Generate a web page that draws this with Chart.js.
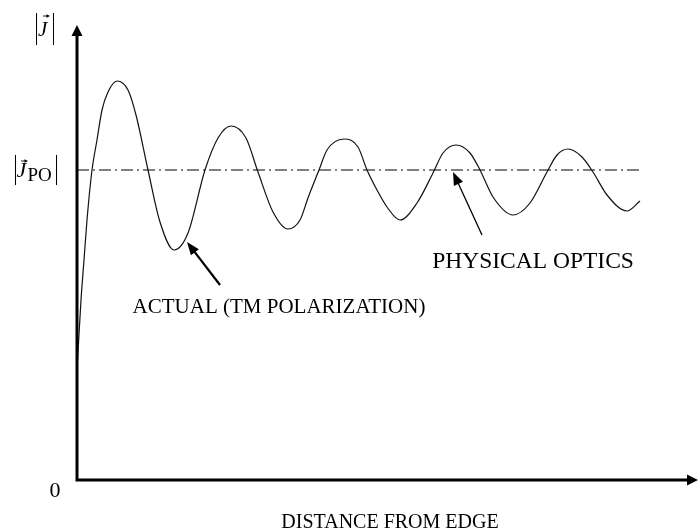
<!DOCTYPE html>
<html>
<head>
<meta charset="utf-8">
<script src="https://cdn.jsdelivr.net/npm/chart.js@4"></script>
<style>
  html, body { margin: 0; padding: 0; background: #fff; }
  #c { display: block; }
</style>
</head>
<body>
<canvas id="c" width="698" height="530"></canvas>
<script>
// ---- data (distance from edge, |J| in arbitrary units) ----
const distance = [0, 4, 7, 10, 15, 20, 25, 31, 40, 51, 59, 71, 83, 97, 111, 128, 141, 154, 169, 181, 196, 211, 223, 231, 242, 250, 267, 281, 290, 300, 310, 323, 340, 356, 366, 379, 393, 403, 416, 436, 453, 470, 480, 491, 505, 516, 530, 550, 563];
const actualJ  = [110, 180, 220, 260, 310, 340, 370, 388, 399, 390, 365, 310, 258, 230, 247, 310, 342, 354, 342, 308, 268, 251, 260, 282, 310, 330, 341, 333, 310, 290, 273, 260, 277, 307, 327, 335, 327, 310, 283, 265, 277, 308, 325, 331, 323, 308, 285, 269, 279];
const poX = [0, 563];
const poJ = [310, 310];
const xMax = 621;
const yMax = 455;

const FONT = '"Liberation Serif", "Times New Roman", serif';

const actualData = distance.map((x, i) => ({ x: x, y: actualJ[i] }));
const poData = poX.map((x, i) => ({ x: x, y: poJ[i] }));

// annotation anchors in data coordinates
const notes = {
  actual: { tail: [143, 195], tip: [110, 238], text: 'ACTUAL (TM POLARIZATION)', at: [202, 167], size: 21 },
  po:     { tail: [405, 245], tip: [376, 308], text: 'PHYSICAL OPTICS', at: [456, 212], size: 23.5 }
};

function arrowHead(ctx, x1, y1, x2, y2, len, half) {
  const a = Math.atan2(y2 - y1, x2 - x1);
  ctx.beginPath();
  ctx.moveTo(x2, y2);
  ctx.lineTo(x2 - len * Math.cos(a) + half * Math.sin(a), y2 - len * Math.sin(a) - half * Math.cos(a));
  ctx.lineTo(x2 - len * Math.cos(a) - half * Math.sin(a), y2 - len * Math.sin(a) + half * Math.cos(a));
  ctx.closePath();
  ctx.fill();
}

const decor = {
  id: 'decor',
  afterDraw(chart) {
    const ctx = chart.ctx;
    const ca = chart.chartArea;
    const xs = chart.scales.x, ys = chart.scales.y;
    ctx.save();
    ctx.fillStyle = '#000';
    ctx.strokeStyle = '#000';
    // axes
    ctx.lineWidth = 3;
    ctx.beginPath();
    ctx.moveTo(ca.left, ca.bottom + 1.5);
    ctx.lineTo(ca.left, ca.top + 8);
    ctx.moveTo(ca.left - 1.5, ca.bottom);
    ctx.lineTo(ca.right - 8, ca.bottom);
    ctx.stroke();
    arrowHead(ctx, ca.left, ca.bottom, ca.left, ca.top, 11, 5.5);
    arrowHead(ctx, ca.left, ca.bottom, ca.right, ca.bottom, 11, 5.5);

    // annotation arrows and texts
    for (const k of ['actual', 'po']) {
      const n = notes[k];
      const x1 = xs.getPixelForValue(n.tail[0]), y1 = ys.getPixelForValue(n.tail[1]);
      const x2 = xs.getPixelForValue(n.tip[0]), y2 = ys.getPixelForValue(n.tip[1]);
      ctx.lineWidth = k === 'actual' ? 2.2 : 1.3;
      const a = Math.atan2(y2 - y1, x2 - x1);
      ctx.beginPath();
      ctx.moveTo(x1, y1);
      ctx.lineTo(x2 - 8 * Math.cos(a), y2 - 8 * Math.sin(a));
      ctx.stroke();
      arrowHead(ctx, x1, y1, x2, y2, 13, 5);
      ctx.font = n.size + 'px ' + FONT;
      ctx.textAlign = 'center';
      ctx.textBaseline = 'alphabetic';
      ctx.fillText(n.text, xs.getPixelForValue(n.at[0]), ys.getPixelForValue(n.at[1]));
    }

    // x axis title
    ctx.font = '20px ' + FONT;
    ctx.textAlign = 'center';
    ctx.fillText('DISTANCE FROM EDGE', 390, ca.bottom + 48);

    // zero label
    ctx.font = '22px ' + FONT;
    ctx.textAlign = 'center';
    ctx.fillText('0', ca.left - 22, ys.getPixelForValue(0) + 17);

    // |J| label at top
    function bars(xl, xr, yt, yb) {
      ctx.lineWidth = 1;
      ctx.beginPath();
      ctx.moveTo(xl, yt); ctx.lineTo(xl, yb);
      ctx.moveTo(xr, yt); ctx.lineTo(xr, yb);
      ctx.stroke();
    }
    function vecArrow(x1, x2, y) {
      ctx.lineWidth = 0.9;
      ctx.beginPath();
      ctx.moveTo(x1, y); ctx.lineTo(x2 - 2, y);
      ctx.stroke();
      arrowHead(ctx, x1, y, x2, y, 3.5, 1.8);
    }
    bars(36.5, 53.5, 13, 45);
    ctx.font = 'italic 21px ' + FONT;
    ctx.textAlign = 'left';
    ctx.fillText('J', 38, 36);
    vecArrow(43, 50, 16);

    // |J_PO| label at the PO level
    const yPO = ys.getPixelForValue(poJ[0]);
    bars(15.5, 56.5, yPO - 15, yPO + 15);
    ctx.font = 'italic 22px ' + FONT;
    ctx.fillText('J', 16.5, yPO + 7);
    ctx.font = '19px ' + FONT;
    ctx.fillText('PO', 27.5, yPO + 11);
    vecArrow(21, 28, yPO - 9);
    ctx.restore();
  }
};

new Chart(document.getElementById('c'), {
  type: 'scatter',
  data: {
    datasets: [
      {
        label: 'Actual (TM polarization)',
        data: actualData,
        showLine: true,
        borderColor: '#111',
        borderWidth: 1.2,
        pointRadius: 0,
        cubicInterpolationMode: 'monotone',
        fill: false
      },
      {
        label: 'Physical optics',
        data: poData,
        showLine: true,
        borderColor: '#000',
        borderWidth: 1,
        borderDash: [12, 4, 2, 4],
        pointRadius: 0,
        fill: false
      }
    ]
  },
  options: {
    responsive: false,
    animation: false,
    layout: { padding: { left: 77, top: 25, right: 0, bottom: 50 } },
    plugins: { legend: { display: false }, tooltip: { enabled: false } },
    scales: {
      x: { type: 'linear', min: 0, max: xMax, display: false },
      y: { type: 'linear', min: 0, max: yMax, display: false }
    }
  },
  plugins: [decor]
});
</script>
</body>
</html>
